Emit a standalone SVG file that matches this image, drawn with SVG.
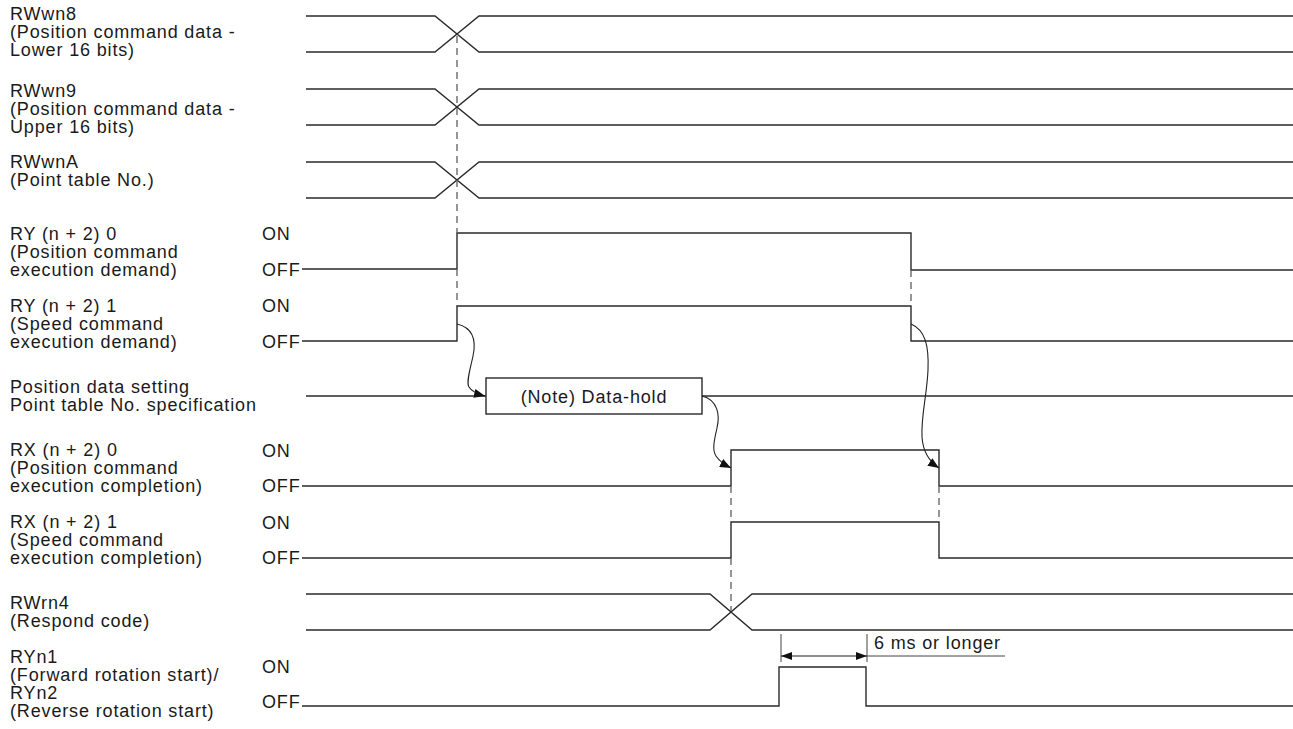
<svg xmlns="http://www.w3.org/2000/svg" width="1293" height="729" viewBox="0 0 1293 729">
<defs>
<style>
.t{font-family:"Liberation Sans",Arial,sans-serif;font-size:18px;letter-spacing:0.85px;fill:#1a1a1a}
.w{fill:none;stroke:#2a2a2a;stroke-width:1.4}
.d{fill:none;stroke:#6a6a6a;stroke-width:1.4;stroke-dasharray:7 5}
.c{fill:none;stroke:#222;stroke-width:1.1}
.k{fill:none;stroke:#444;stroke-width:1}
.box{fill:#fff;stroke:#2a2a2a;stroke-width:1.4}
</style>
<marker id="ah" viewBox="0 0 11 9" refX="11" refY="4.5" markerWidth="11" markerHeight="9" markerUnits="userSpaceOnUse" orient="auto"><path d="M0,0 L11,4.5 L0,9 z" fill="#111"/></marker>
<marker id="dh" viewBox="0 0 11 8" refX="11" refY="4" markerWidth="11" markerHeight="8" markerUnits="userSpaceOnUse" orient="auto-start-reverse"><path d="M0,0 L11,4 L0,8 z" fill="#111"/></marker>
</defs>
<rect width="1293" height="729" fill="#fff"/>

<g id="rwwn8">
<text class="t" x="10" y="19.5">RWwn8</text>
<text class="t" x="10" y="37.5">(Position command data -</text>
<text class="t" x="10" y="55.5">Lower 16 bits)</text>
<path class="w" d="M306,16 H435 L479,52 H1293 M306,52 H435 L479,16 H1293"/>
</g>

<g id="rwwn9">
<text class="t" x="10" y="96.5">RWwn9</text>
<text class="t" x="10" y="114.5">(Position command data -</text>
<text class="t" x="10" y="132.5">Upper 16 bits)</text>
<path class="w" d="M306,89 H435 L479,125 H1293 M306,125 H435 L479,89 H1293"/>
</g>

<g id="rwwna">
<text class="t" x="10" y="167.5">RWwnA</text>
<text class="t" x="10" y="185.5">(Point table No.)</text>
<path class="w" d="M306,162 H435 L479,198 H1293 M306,198 H435 L479,162 H1293"/>
</g>

<g id="ry0">
<text class="t" x="10" y="239.5">RY (n + 2) 0</text>
<text class="t" x="10" y="257.5">(Position command</text>
<text class="t" x="10" y="275.5">execution demand)</text>
<text class="t" x="262" y="239.5">ON</text>
<text class="t" x="262" y="275.5">OFF</text>
<path class="w" d="M302,269 H457 V233 H911 V270 H1293"/>
</g>

<g id="ry1">
<text class="t" x="10" y="311.5">RY (n + 2) 1</text>
<text class="t" x="10" y="329.5">(Speed command</text>
<text class="t" x="10" y="347.5">execution demand)</text>
<text class="t" x="262" y="312">ON</text>
<text class="t" x="262" y="347.5">OFF</text>
<path class="w" d="M302,341 H457 V306 H911 V341 H1293"/>
</g>

<g id="posdata">
<text class="t" x="10" y="392.5">Position data setting</text>
<text class="t" x="10" y="410.5">Point table No. specification</text>
<path class="w" d="M306,396 H486 M702,396 H1293"/>
<rect class="box" x="486" y="378" width="216" height="36"/>
<text class="t" x="594" y="403" text-anchor="middle">(Note) Data-hold</text>
</g>

<g id="rx0">
<text class="t" x="10" y="455.5">RX (n + 2) 0</text>
<text class="t" x="10" y="473.5">(Position command</text>
<text class="t" x="10" y="491.5">execution completion)</text>
<text class="t" x="262" y="456.5">ON</text>
<text class="t" x="262" y="492">OFF</text>
<path class="w" d="M302,486 H731 V450 H939 V486 H1293"/>
</g>

<g id="rx1">
<text class="t" x="10" y="527.5">RX (n + 2) 1</text>
<text class="t" x="10" y="545.5">(Speed command</text>
<text class="t" x="10" y="563.5">execution completion)</text>
<text class="t" x="262" y="528.5">ON</text>
<text class="t" x="262" y="564">OFF</text>
<path class="w" d="M302,558 H731 V522 H939 V558 H1293"/>
</g>

<g id="rwrn4">
<text class="t" x="10" y="608.5">RWrn4</text>
<text class="t" x="10" y="626.5">(Respond code)</text>
<path class="w" d="M306,594 H710 L752,630 H1293 M306,630 H710 L752,594 H1293"/>
</g>

<g id="ryn">
<text class="t" x="10" y="662.5">RYn1</text>
<text class="t" x="10" y="680.5">(Forward rotation start)/</text>
<text class="t" x="10" y="698.5">RYn2</text>
<text class="t" x="10" y="716.5">(Reverse rotation start)</text>
<text class="t" x="262" y="673">ON</text>
<text class="t" x="262" y="708">OFF</text>
<path class="w" d="M302,706 H779 V667 H866 V706 H1293"/>
</g>

<g id="connectors">
<path class="d" d="M457,36 V233 M457,269 V306 M911,270 V306 M731,486 V522 M939,486 V522 M731,558 V611"/>
<path class="c" d="M457,324 C474,328 476,342 473,356 C470,370 466,382 469,387 C472,392 477,394 485,396" marker-end="url(#ah)"/>
<path class="c" d="M702,396 C718,400 720,415 717,428 C714,441 712,450 716,456 C720,462 725,465 731,468" marker-end="url(#ah)"/>
<path class="c" d="M911,324 C925,330 929,345 928,370 C927,395 921,415 922,437 C923,452 930,462 939,468" marker-end="url(#ah)"/>
<path class="k" d="M781,634 V662 M867,634 V662"/>
<path class="c" d="M781,656 H867" marker-start="url(#dh)" marker-end="url(#dh)"/>
<path class="k" d="M867,656 H1005"/>
<text class="t" x="874" y="649">6 ms or longer</text>
</g>
</svg>
